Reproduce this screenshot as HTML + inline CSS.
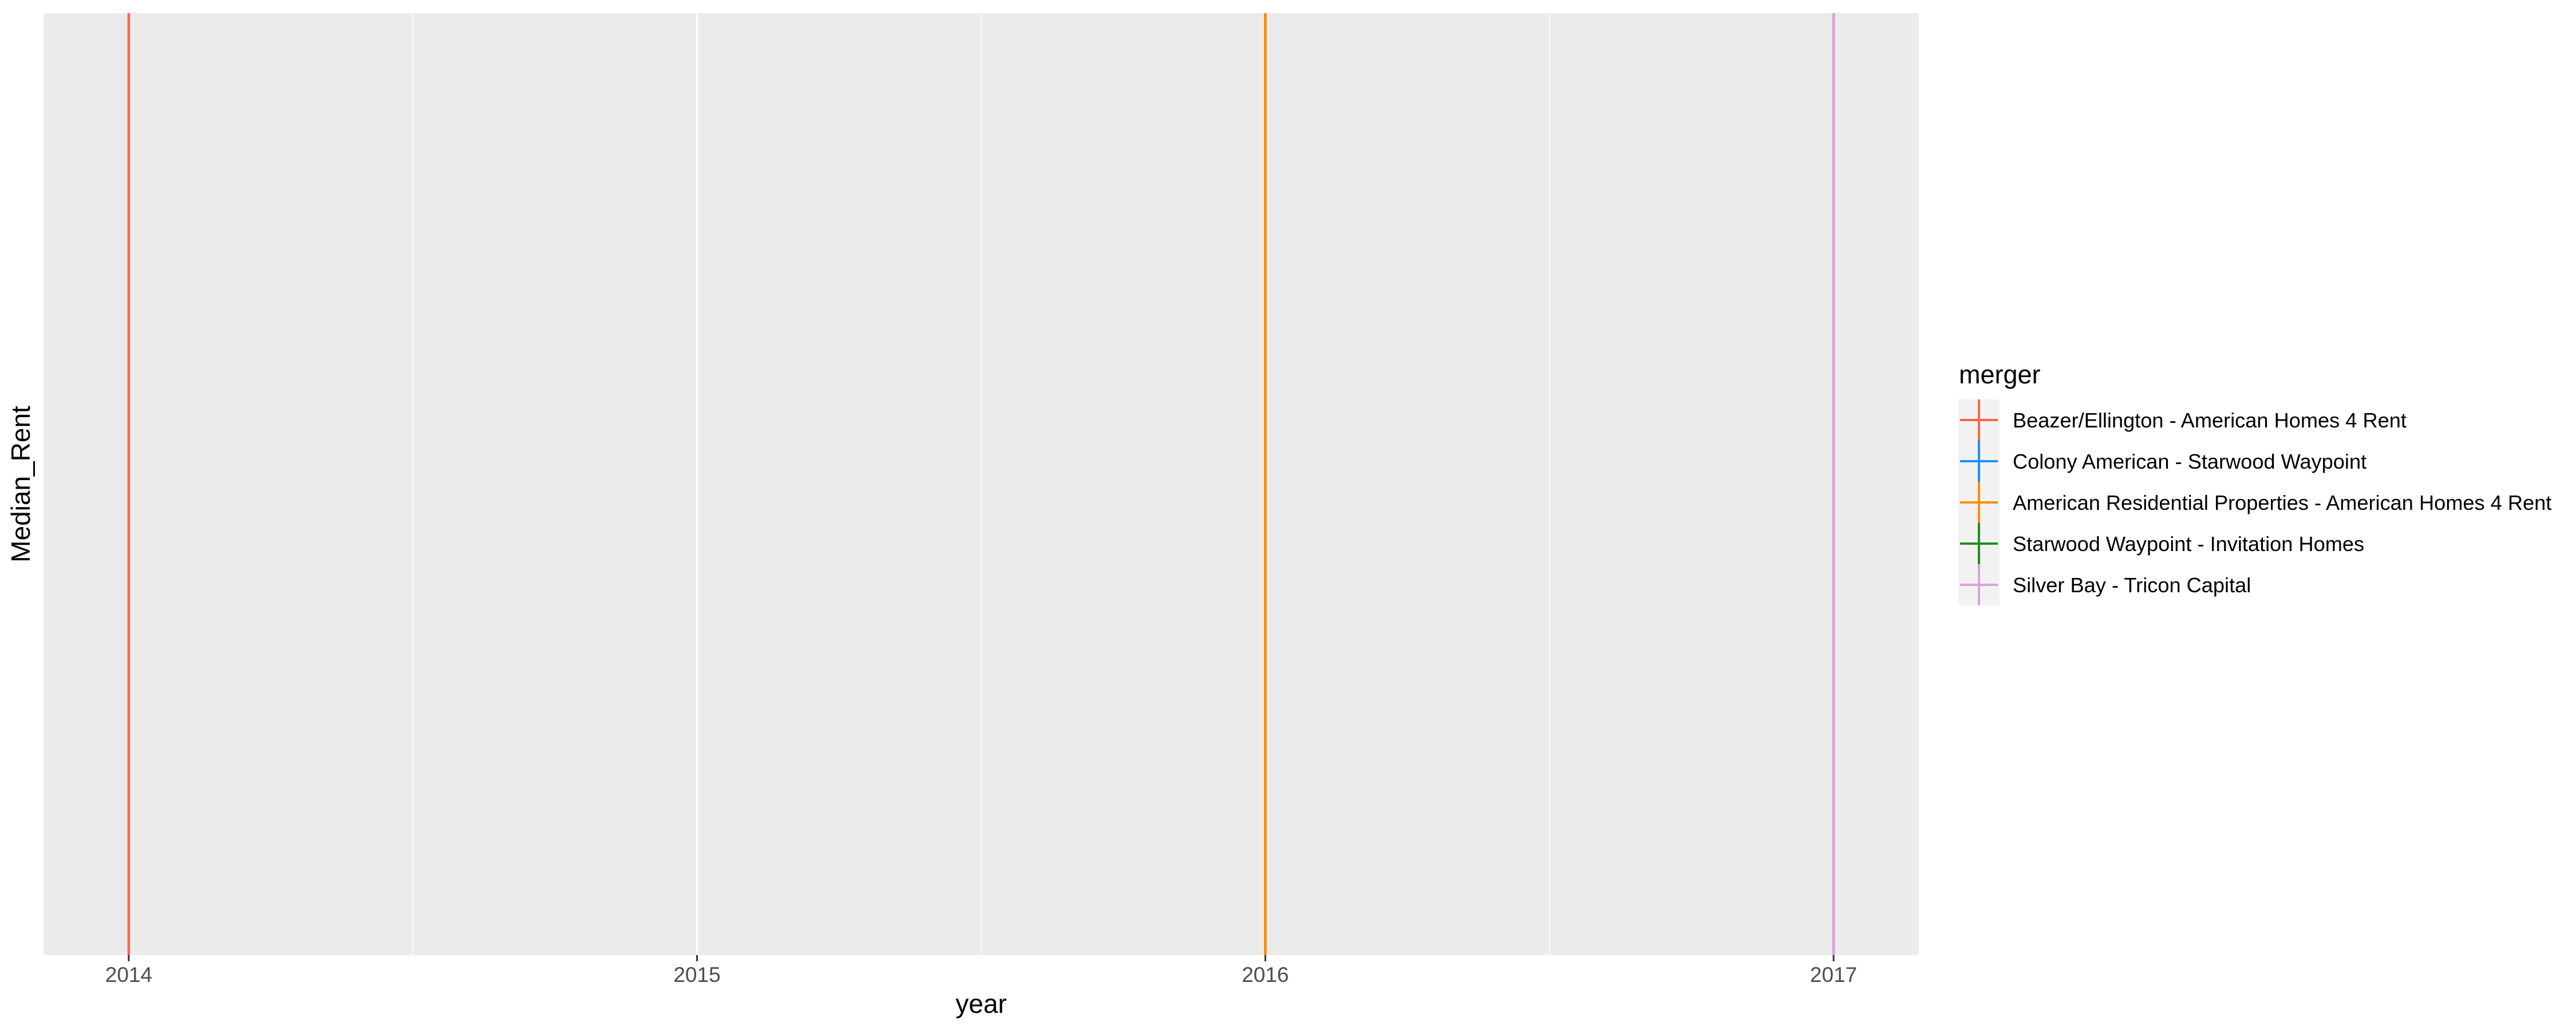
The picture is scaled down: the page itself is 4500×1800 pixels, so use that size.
<!DOCTYPE html>
<html><head><meta charset="utf-8"><style>
html,body{margin:0;padding:0;background:#fff;}
svg{display:block;font-family:"Liberation Sans",sans-serif;}
</style></head><body>
<svg id="chart" width="4500" height="1800" viewBox="0 0 4500 1800" xmlns="http://www.w3.org/2000/svg">
<rect x="0" y="0" width="4500" height="1800" fill="#fff"/>
<rect x="76" y="23" width="3276" height="1646" fill="#EBEBEB"/>
<g id="grid"></g>
<g id="marks"></g>
<g id="xaxis"></g>
<text x="1714" y="1770" font-size="46" text-anchor="middle" fill="#000">year</text>
<text transform="translate(52,846) rotate(-90)" font-size="46" text-anchor="middle" fill="#000">Median_Rent</text>
<g id="legend">
<text x="3422" y="670" font-size="45" fill="#000">merger</text>
</g>
</svg>
<script>
const categories = ["Beazer/Ellington - American Homes 4 Rent","Colony American - Starwood Waypoint","American Residential Properties - American Homes 4 Rent","Starwood Waypoint - Invitation Homes","Silver Bay - Tricon Capital"];
const years = [2014, 2016, 2016, 2017, 2017];
const colors = ["#FF6347","#1E90FF","#FF8C00","#228B22","#DDA0DD"];
const xTicks = [2014, 2015, 2016, 2017];
const xMinorTicks = [2014.5, 2015.5, 2016.5];

const NS = "http://www.w3.org/2000/svg";
const pL = 76, pR = 3352, pT = 23, pB = 1669;
const dMin = Math.min(...years, ...xTicks), dMax = Math.max(...years, ...xTicks);
const pad = (dMax - dMin) * 0.05;
function xScale(v){ return pL + (v - (dMin - pad)) / ((dMax + pad) - (dMin - pad)) * (pR - pL); }
function mk(tag, attrs, parent){ const e = document.createElementNS(NS, tag); for (const k in attrs) e.setAttribute(k, attrs[k]); parent.appendChild(e); return e; }

const grid = document.getElementById('grid');
xMinorTicks.forEach(t => {
  const l = mk('line', {x1:xScale(t), x2:xScale(t), y1:pT, y2:pB, stroke:'#fff', 'stroke-width':1.6}, grid);
  
  
});
xTicks.forEach(t => {
  const l = mk('line', {x1:xScale(t), x2:xScale(t), y1:pT, y2:pB, stroke:'#fff', 'stroke-width':3}, grid);
  
  
});

const marks = document.getElementById('marks');
years.forEach((y, i) => {
  const l = mk('line', {x1:xScale(y), x2:xScale(y), y1:pT, y2:pB, stroke:colors[i], 'stroke-width':4.5}, marks);
  
  
});

const xa = document.getElementById('xaxis');
xTicks.forEach(t => {
  const tk = mk('line', {x1:xScale(t), x2:xScale(t), y1:pB, y2:pB + 11, stroke:'#333', 'stroke-width':3}, xa);
  
  
  const tx = mk('text', {x:xScale(t), y:1716, 'font-size':37, fill:'#4D4D4D', 'text-anchor':'middle'}, xa);
  tx.textContent = t;
  
  
});

const lg = document.getElementById('legend');
const kx = 3421, kw = 72, ky = 698, kh = 72;
categories.forEach((c, i) => {
  const y0 = ky + i * kh, cx = kx + kw / 2, cy = y0 + kh / 2;
  const bg = mk('rect', {x:kx, y:y0, width:kw, height:kh, fill:'#F2F2F2'}, lg);
  
  
  const v = mk('line', {x1:cx, x2:cx, y1:y0, y2:y0 + kh, stroke:colors[i], 'stroke-width':4}, lg);
  
  
  const h = mk('line', {x1:kx + 3, x2:kx + kw - 3, y1:cy, y2:cy, stroke:colors[i], 'stroke-width':4}, lg);
  
  
  const t = mk('text', {x:3516, y:cy + 13, 'font-size':36.2, fill:'#000'}, lg);
  t.textContent = c;
  
  
});
</script>
</body></html>
